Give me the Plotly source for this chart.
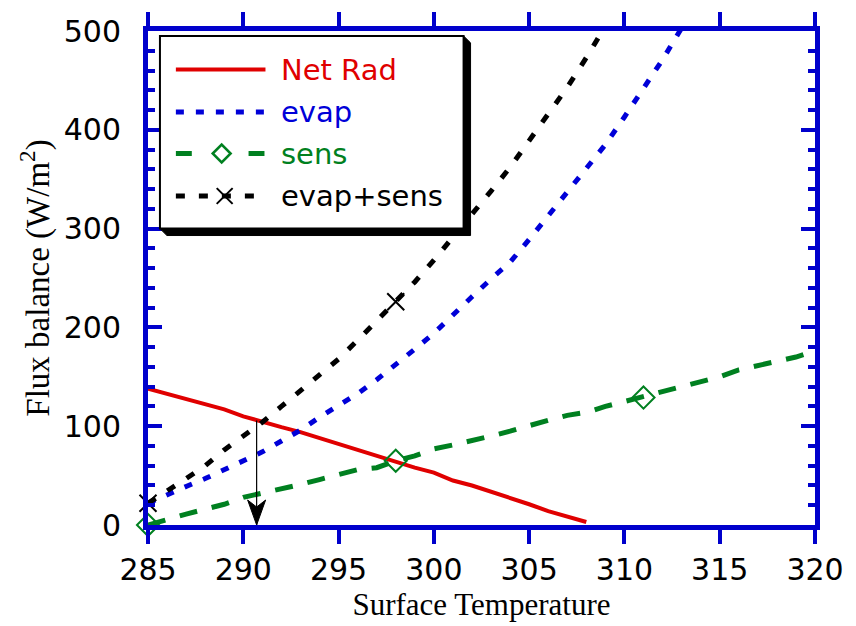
import numpy as np
import plotly.graph_objects as go

# Surface-temperature axis (K), one sample per degree
T_START = 285

# Net radiation, 285..308 K (W/m^2)
net_rad = [138, 133, 128, 122, 117, 110, 104, 99, 94, 88, 82, 76, 69, 64, 58, 53,
           45, 40, 34, 27, 21, 14, 8, 3]
# Evaporative flux, 285..313 K
evap = [22, 31, 39, 47, 56, 64, 74, 85, 96, 109, 121, 133, 147, 162, 178, 194, 213,
        231, 249, 266, 289, 313, 336, 359, 385, 413, 441, 471, 503]
# Sensible flux, 285..320 K
sens = [0, 6, 11, 16, 21, 28, 32, 36, 41, 46, 51, 56, 58, 65, 70, 77, 81, 85, 90, 95,
        101, 106, 111, 114, 120, 125, 129, 134, 140, 145, 150, 157, 161, 165, 170, 176]
# Evaporative + sensible, 285..309 K
evap_sens = [22, 34, 47, 60, 76, 90, 104, 120, 136, 152, 168, 187, 207, 226, 246, 268,
             291, 314, 338, 362, 389, 416, 443, 473, 505]

x_ticks = [285, 290, 295, 300, 305, 310, 315, 320]
y_ticks = [0, 100, 200, 300, 400, 500]

MARK_EVERY = 13
ARROW_T = 290.7   # equilibrium surface temperature marked by the arrow

BLUE_AXIS = "#0000cc"
RED = "#e00000"
BLUE = "#0000d8"
GREEN = "#008020"
BLACK = "#000000"

series = [
    dict(name="Net Rad", y=net_rad, color=RED, width=4, dash="solid", marker=None),
    dict(name="evap", y=evap, color=BLUE, width=5, dash="8px,12px", marker=None),
    dict(name="sens", y=sens, color=GREEN, width=5, dash="18px,15px",
         marker="diamond-open"),
    dict(name="evap+sens", y=evap_sens, color=BLACK, width=5, dash="9px,14px",
         marker="x-thin-open"),
]

W, H = 856, 626
M_L, M_R, M_T, M_B = 148, 38, 28, 98
PW = W - M_L - M_R
PH = H - M_T - M_B


def px(x):
    return (x - M_L) / PW


def py(y):
    return (H - M_B - y) / PH


fig = go.Figure()

for s in series:
    t = [T_START + i for i in range(len(s["y"]))]
    fig.add_trace(go.Scatter(
        x=t, y=s["y"], mode="lines", name=s["name"], showlegend=False,
        line=dict(color=s["color"], width=s["width"], dash=s["dash"]),
    ))
    if s["marker"]:
        fig.add_trace(go.Scatter(
            x=t[::MARK_EVERY], y=s["y"][::MARK_EVERY], mode="markers",
            showlegend=False, cliponaxis=False,
            marker=dict(symbol=s["marker"], size=17, color=s["color"],
                        line=dict(color=s["color"], width=2)),
        ))

shapes = []

# arrow from the net-radiation curve down to the temperature axis
t_net = [T_START + i for i in range(len(net_rad))]
arrow_top = float(np.interp(ARROW_T, t_net, net_rad))
shapes.append(dict(type="line", xref="x", yref="y", layer="above",
                   x0=ARROW_T, x1=ARROW_T, y0=arrow_top, y1=0,
                   line=dict(color=BLACK, width=1.2)))
shapes.append(dict(type="path", xref="x", yref="y", layer="above",
                   xsizemode="pixel", ysizemode="pixel", xanchor=ARROW_T, yanchor=0,
                   path="M0,0 L-9,25 L0,18 L9,25 Z",
                   fillcolor=BLACK, line=dict(color=BLACK, width=1)))

# boxed legend with drop shadow
shapes += [
    dict(type="path", xref="paper", yref="paper", layer="above",
         path=(f"M{px(160)},{py(228)} L{px(167)},{py(235)} L{px(472)},{py(235)} "
               f"L{px(472)},{py(40)} L{px(465)},{py(33)} Z"),
         fillcolor=BLACK, line=dict(color=BLACK, width=1)),
    dict(type="rect", xref="paper", yref="paper", layer="above",
         x0=px(160), x1=px(465), y0=py(228), y1=py(33),
         fillcolor="white", line=dict(color=BLACK, width=2)),
]
rows = [67, 110, 152, 195]
SAMPLE_L, SAMPLE_R, SAMPLE_MID = 176, 266, 222
for s, ry in zip(series, rows):
    if s["name"] == "sens":
        for a, b in [(SAMPLE_L, SAMPLE_L + 16), (SAMPLE_R - 17, SAMPLE_R - 1)]:
            shapes.append(dict(type="line", xref="paper", yref="paper", layer="above",
                               x0=px(a), x1=px(b), y0=py(ry), y1=py(ry),
                               line=dict(color=s["color"], width=s["width"])))
    else:
        shapes.append(dict(type="line", xref="paper", yref="paper", layer="above",
                           x0=px(SAMPLE_L), x1=px(SAMPLE_R), y0=py(ry), y1=py(ry),
                           line=dict(color=s["color"], width=s["width"],
                                     dash=s["dash"] if s["dash"] != "solid" else None)))
    if s["marker"] == "diamond-open":
        r = 9
        shapes.append(dict(type="path", xref="paper", yref="paper", layer="above",
                           path=(f"M{px(SAMPLE_MID - r)},{py(ry)} L{px(SAMPLE_MID)},{py(ry - r)} "
                                 f"L{px(SAMPLE_MID + r)},{py(ry)} L{px(SAMPLE_MID)},{py(ry + r)} Z"),
                           line=dict(color=s["color"], width=2.5)))
    elif s["marker"] == "x-thin-open":
        r = 8
        cx = SAMPLE_MID + 3
        for d in (1, -1):
            shapes.append(dict(type="line", xref="paper", yref="paper", layer="above",
                               x0=px(cx - r), x1=px(cx + r), y0=py(ry - d * r), y1=py(ry + d * r),
                               line=dict(color=s["color"], width=2)))
    fig.add_annotation(x=px(280), y=py(ry), xref="paper", yref="paper",
                       xanchor="left", yanchor="middle", text=s["name"], showarrow=False,
                       font=dict(family="DejaVu Sans", size=29, color=s["color"]))
fig.update_layout(shapes=shapes)

tick_font = dict(family="DejaVu Sans", size=30, color="black")

fig.update_xaxes(
    range=[285, 320], tickmode="array", tickvals=x_ticks, ticktext=[str(v) for v in x_ticks],
    showline=True, linewidth=5, linecolor=BLUE_AXIS, mirror="allticks",
    ticks="outside", ticklen=14, tickwidth=4, tickcolor=BLUE_AXIS,
    showgrid=False, zeroline=False, tickfont=tick_font,
    title=dict(text="Surface Temperature", standoff=5,
               font=dict(family="Liberation Serif", size=31, color="black")),
)
fig.update_yaxes(
    range=[0, 500], tickmode="array", tickvals=y_ticks, ticktext=[str(v) for v in y_ticks],
    showline=True, linewidth=5, linecolor=BLUE_AXIS, mirror="allticks",
    ticks="inside", ticklen=14, tickwidth=4, tickcolor=BLUE_AXIS,
    minor=dict(dtick=20, ticks="inside", ticklen=7, tickwidth=4, tickcolor=BLUE_AXIS,
               showgrid=False),
    showgrid=False, zeroline=False, tickfont=tick_font, ticklabelstandoff=16,
    title=dict(text="Flux balance (W/m<sup>2</sup>)", standoff=6,
               font=dict(family="Liberation Serif", size=33, color="black")),
)

fig.update_layout(
    width=W, height=H, margin=dict(l=M_L, r=M_R, t=M_T, b=M_B, pad=0),
    paper_bgcolor="white", plot_bgcolor="white", showlegend=False,
)

fig.write_html("out.html")
